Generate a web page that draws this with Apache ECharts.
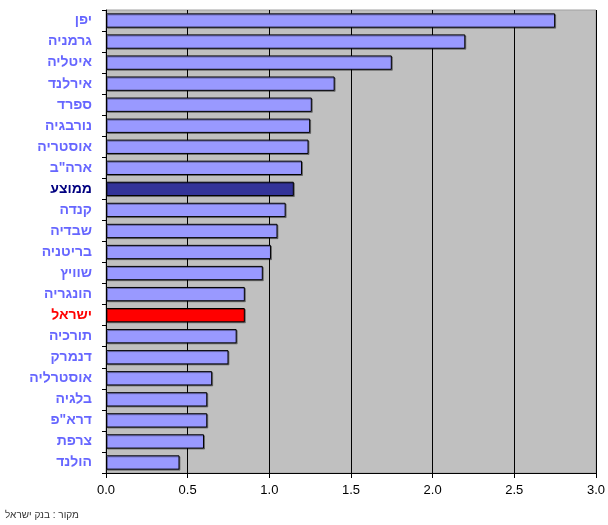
<!DOCTYPE html>
<html>
<head>
<meta charset="utf-8">
<script src="https://cdn.jsdelivr.net/npm/echarts@6/dist/echarts.min.js"></script>
<style>
  html, body { margin: 0; padding: 0; background: #fff; }
  #chart { width: 608px; height: 525px; }
</style>
</head>
<body>
<div id="chart"></div>
<script>
// countries, top to bottom
var countries = ['יפן', 'גרמניה', 'איטליה', 'אירלנד', 'ספרד', 'נורבגיה', 'אוסטריה', 'ארה"ב', 'ממוצע',
    'קנדה', 'שבדיה', 'בריטניה', 'שוויץ', 'הונגריה', 'ישראל', 'תורכיה', 'דנמרק', 'אוסטרליה',
    'בלגיה', 'דרא"פ', 'צרפת', 'הולנד'];
var values = [2.75, 2.2, 1.75, 1.4, 1.26, 1.25, 1.24, 1.2, 1.15,
    1.1, 1.05, 1.01, 0.96, 0.85, 0.85, 0.8, 0.75, 0.65,
    0.62, 0.62, 0.6, 0.45];
var xTicks = ['0.0', '0.5', '1.0', '1.5', '2.0', '2.5', '3.0'];
var sourceText = 'מקור : בנק ישראל';

var avgName = 'ממוצע';
var israelName = 'ישראל';

var myChart = echarts.init(document.getElementById('chart'));

// צבע לכל עמודה
var barData = [];
for (var i = 0; i < countries.length; i++) {
    var c = '#9999ff';
    if (countries[i] == avgName) c = '#333399';
    if (countries[i] == israelName) c = '#ff0000';
    barData.push({
        value: values[i],
        itemStyle: { color: c }
    });
}

var option = {
    animation: false,
    grid: {
        left: 106,
        right: 11,
        top: 10,
        bottom: 52,
        show: true,
        backgroundColor: '#c0c0c0',
        borderColor: '#a0a0a0',
        borderWidth: 1
    },
    xAxis: {
        type: 'value',
        min: 0,
        max: 3,
        interval: 0.5,
        axisLine: { show: true, lineStyle: { color: '#000', width: 1 } },
        axisTick: { show: true, length: 5, lineStyle: { color: '#000' } },
        axisLabel: {
            color: '#000',
            fontFamily: 'Arial, "Liberation Sans"',
            fontSize: 13,
            margin: 11,
            formatter: function (v) {
                return xTicks[Math.round(v / 0.5)];
            }
        },
        splitLine: { show: true, lineStyle: { color: '#000', width: 1 } }
    },
    yAxis: {
        type: 'category',
        data: countries,
        inverse: true,
        axisLine: { show: true, lineStyle: { color: '#000', width: 1 } },
        axisTick: { show: true, length: 4, lineStyle: { color: '#000' } },
        axisLabel: {
            fontFamily: 'Arial, "Liberation Sans"',
            fontSize: 14,
            fontWeight: 'bold',
            margin: 14,
            color: function (name) {
                if (name == avgName) return '#000080';
                if (name == israelName) return '#ff0000';
                return '#6666ff';
            }
        },
        splitLine: { show: false }
    },
    graphic: [{
        type: 'text',
        left: 5,
        top: 510,
        style: {
            text: sourceText,
            fill: '#333',
            font: '10px Arial, "Liberation Sans"'
        }
    }],
    series: [{
        type: 'bar',
        data: barData,
        barCategoryGap: '32%',
        itemStyle: {
            borderColor: '#000',
            borderWidth: 1,
            shadowColor: 'rgba(0,0,0,0.35)',
            shadowOffsetX: 1,
            shadowOffsetY: 1
        }
    }]
};
myChart.setOption(option);
</script>
</body>
</html>
